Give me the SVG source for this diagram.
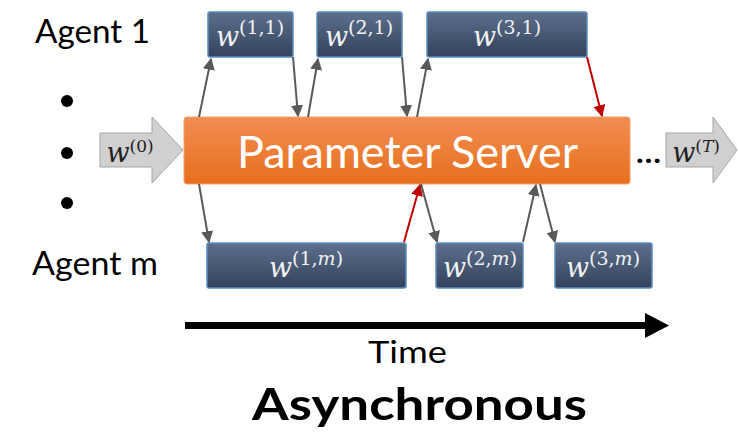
<svg xmlns="http://www.w3.org/2000/svg" width="738" height="439" viewBox="0 0 738 439">
<defs>
<linearGradient id="gBox" x1="0" y1="0" x2="0" y2="1">
<stop offset="0" stop-color="#5C6F8C"/>
<stop offset="1" stop-color="#34435C"/>
</linearGradient>
<linearGradient id="gOr" x1="0" y1="0" x2="0" y2="1">
<stop offset="0" stop-color="#F28D52"/>
<stop offset="1" stop-color="#E66F1C"/>
</linearGradient>
<marker id="ah" viewBox="0 0 10 10" refX="9" refY="5" markerWidth="6" markerHeight="6" markerUnits="strokeWidth" orient="auto">
<path d="M0,0 L10,5 L0,10 Z" fill="#595959"/>
</marker>
<marker id="ahr" viewBox="0 0 10 10" refX="9" refY="5" markerWidth="6" markerHeight="6" markerUnits="strokeWidth" orient="auto">
<path d="M0,0 L10,5 L0,10 Z" fill="#C00000"/>
</marker>
<style>
.box{fill:url(#gBox);stroke:#5B8CC0;stroke-width:1.5}
.lbl{font-family:"DejaVu Serif","Liberation Serif",serif;fill:#F2F2F2;text-anchor:middle}
.w{font-style:italic;font-size:27px}
.sup{font-size:19px}
.i{font-style:italic}
.c{stroke:#595959;stroke-width:2;fill:none;marker-end:url(#ah)}
.r{stroke:#C00000;stroke-width:2;fill:none;marker-end:url(#ahr)}
.t{font-family:Lato,"Open Sans",sans-serif;fill:#000}
.garrow{fill:#D0D0D0;stroke:#A6A6A6;stroke-width:1}
</style>
</defs>
<rect width="738" height="439" fill="#fff"/>

<text class="t" x="35" y="43" font-size="32" textLength="115" lengthAdjust="spacingAndGlyphs">Agent 1</text>
<text class="t" x="32" y="275" font-size="32" textLength="126" lengthAdjust="spacingAndGlyphs">Agent m</text>
<circle cx="67" cy="101" r="6" fill="#000"/>
<circle cx="67" cy="153" r="6" fill="#000"/>
<circle cx="67" cy="203" r="6" fill="#000"/>

<g id="w0">
<path class="garrow" d="M100,133 H152 V117 L183,150 L152,183 V167 H100 Z"/>
<text class="lbl" x="130" y="162" style="fill:#222"><tspan class="w" font-size="25">w</tspan><tspan font-size="17" dy="-10">(0)</tspan></text>
</g>

<g id="server">
<rect x="184" y="117" width="446" height="67" rx="3" fill="url(#gOr)" stroke="#F4A06A" stroke-width="1"/>
<text class="t" x="237" y="168" font-size="44" style="fill:#fff" textLength="341" lengthAdjust="spacingAndGlyphs">Parameter Server</text>
</g>

<text class="t" x="636" y="163" font-size="28" font-weight="bold" textLength="25" lengthAdjust="spacingAndGlyphs">…</text>

<g id="wT">
<path class="garrow" d="M666,133 H713 V117 L737,150 L713,183 V167 H666 Z"/>
<text class="lbl" x="696" y="162" style="fill:#222"><tspan class="w" font-size="25">w</tspan><tspan font-size="17" dy="-10">(<tspan class="i">T</tspan>)</tspan></text>
</g>

<g id="a11"><rect class="box" x="208" y="12" width="85" height="45" rx="2"/>
<text class="lbl" x="250" y="46"><tspan class="w">w</tspan><tspan class="sup" dy="-12">(1,1)</tspan></text></g>
<g id="a21"><rect class="box" x="317" y="12" width="85" height="45" rx="2"/>
<text class="lbl" x="359" y="46"><tspan class="w">w</tspan><tspan class="sup" dy="-12">(2,1)</tspan></text></g>
<g id="a31"><rect class="box" x="427" y="12" width="160" height="45" rx="2"/>
<text class="lbl" x="507" y="46"><tspan class="w">w</tspan><tspan class="sup" dy="-12">(3,1)</tspan></text></g>

<g id="a1m"><rect class="box" x="207" y="243" width="199" height="45" rx="2"/>
<text class="lbl" x="306" y="277"><tspan class="w">w</tspan><tspan class="sup" dy="-12">(1,<tspan class="i">m</tspan>)</tspan></text></g>
<g id="a2m"><rect class="box" x="436" y="243" width="87" height="45" rx="2"/>
<text class="lbl" x="480" y="277"><tspan class="w">w</tspan><tspan class="sup" dy="-12">(2,<tspan class="i">m</tspan>)</tspan></text></g>
<g id="a3m"><rect class="box" x="555" y="243" width="97" height="45" rx="2"/>
<text class="lbl" x="603" y="277"><tspan class="w">w</tspan><tspan class="sup" dy="-12">(3,<tspan class="i">m</tspan>)</tspan></text></g>

<g id="connectors">
<line class="c" x1="199" y1="117" x2="211" y2="59"/>
<line class="c" x1="293" y1="57" x2="298" y2="116"/>
<line class="c" x1="308" y1="117" x2="318" y2="59"/>
<line class="c" x1="402" y1="57" x2="407" y2="116"/>
<line class="c" x1="417" y1="117" x2="428" y2="59"/>
<line class="r" x1="587" y1="57" x2="602" y2="116"/>
<line class="c" x1="199" y1="184" x2="209" y2="242"/>
<line class="r" x1="404" y1="242" x2="420" y2="185"/>
<line class="c" x1="421" y1="184" x2="437" y2="242"/>
<line class="c" x1="523" y1="242" x2="536" y2="185"/>
<line class="c" x1="540" y1="184" x2="555" y2="242"/>
</g>

<g id="time">
<rect x="185" y="322" width="462" height="7" fill="#000"/>
<path d="M645,313 L669,325.5 L645,338 Z" fill="#000"/>
</g>
<text class="t" x="368" y="363" font-size="31" textLength="79" lengthAdjust="spacingAndGlyphs">Time</text>
<text class="t" x="252" y="420" font-size="44" font-weight="bold" textLength="335" lengthAdjust="spacingAndGlyphs">Asynchronous</text>
</svg>
